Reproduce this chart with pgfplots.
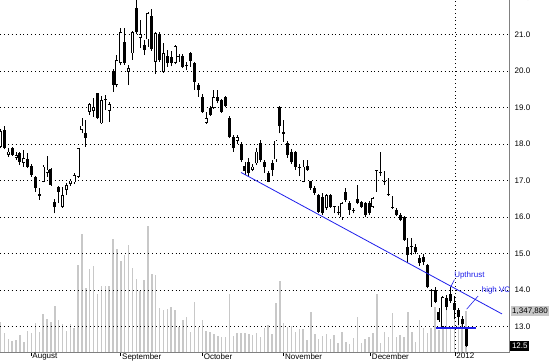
\documentclass[border=0pt]{standalone}
\usepackage{pgfplots}
\pgfplotsset{compat=1.18}
\usepackage{pgfplotstable}
\usepackage{fontspec}
\setmainfont{Liberation Sans}
\definecolor{volgray}{RGB}{200,200,200}
\definecolor{axgray}{RGB}{128,128,128}
\definecolor{annblue}{RGB}{30,30,235}

\pgfplotstableread{
k o h l c
0 17.92 18.40 17.88 18.35
1 18.38 18.48 17.85 17.90
2 17.70 17.88 17.65 17.79
3 17.89 17.92 17.68 17.70
4 17.62 17.79 17.56 17.70
5 17.75 17.79 17.42 17.51
6 17.48 17.83 17.37 17.62
7 17.58 17.74 17.34 17.38
8 17.40 17.45 17.10 17.15
9 17.10 17.12 16.69 16.80
10 16.62 16.79 16.47 16.58
11 16.97 17.42 16.95 17.38
12 17.20 17.67 17.10 17.30
13 17.31 17.35 16.85 16.88
14 16.42 16.49 16.10 16.27
15 16.83 16.85 16.38 16.69
16 16.28 16.83 16.25 16.60
17 16.74 16.92 16.60 16.87
18 16.90 17.05 16.85 17.00
19 16.95 17.20 16.90 17.15
20 17.10 17.90 17.07 17.88
21 18.38 18.70 18.29 18.50
22 18.31 18.66 17.92 18.17
23 18.88 19.13 18.79 19.08
24 18.90 19.25 18.75 19.00
25 19.39 19.40 18.68 18.71
26 18.56 19.30 18.55 19.20
27 19.20 19.35 18.92 19.24
28 18.90 19.15 18.60 19.08
29 20.00 20.05 19.43 19.61
30 19.61 20.43 19.55 20.30
31 20.21 21.16 20.15 21.07
32 20.80 21.16 20.17 20.21
33 19.98 20.16 19.61 20.07
34 20.48 21.10 20.30 21.07
35 21.71 22.05 21.02 21.07
36 20.91 21.39 20.62 21.00
37 20.71 20.85 20.43 20.58
38 20.86 21.62 20.66 21.59
39 21.50 21.68 20.55 20.59
40 20.25 21.05 19.91 21.03
41 21.00 21.05 20.25 20.30
42 19.98 20.75 19.95 20.48
43 20.41 20.57 20.11 20.21
44 20.38 20.55 20.12 20.22
45 20.21 20.70 20.18 20.68
46 20.38 20.47 20.25 20.40
47 20.41 20.45 20.07 20.11
48 20.12 20.25 20.02 20.15
49 20.50 20.52 20.11 20.27
50 20.21 20.25 19.48 19.70
51 19.61 19.68 19.29 19.48
52 19.29 19.38 18.85 18.88
53 18.58 18.88 18.55 18.70
54 18.98 19.05 18.77 18.79
55 18.98 19.48 18.95 19.29
56 19.29 19.48 19.11 19.18
57 19.20 19.22 18.85 18.88
58 19.28 19.30 19.00 19.04
59 18.70 18.76 18.15 18.18
60 18.20 18.25 17.79 17.88
61 18.08 18.25 18.00 18.18
62 18.00 18.05 17.50 17.56
63 17.40 17.51 17.15 17.27
64 17.51 17.61 17.12 17.20
65 17.29 17.45 17.25 17.38
66 17.47 17.88 17.42 17.79
67 18.02 18.11 17.50 17.56
68 17.51 17.56 17.20 17.38
69 17.20 17.25 16.95 16.97
70 17.49 17.56 17.12 17.29
71 17.58 18.12 17.51 18.09
72 19.02 19.05 18.29 18.49
73 18.32 18.66 18.06 18.28
74 18.02 18.08 17.62 17.70
75 17.79 17.85 17.45 17.51
76 17.79 17.82 17.29 17.38
77 17.36 17.45 17.12 17.34
78 16.97 17.56 16.95 17.38
79 17.40 17.56 17.27 17.29
80 16.99 17.00 16.75 16.79
81 16.80 16.85 16.60 16.67
82 16.60 16.62 16.10 16.15
83 16.55 16.65 16.05 16.10
84 16.24 16.63 16.20 16.60
85 16.60 16.63 16.25 16.28
86 16.28 16.30 16.10 16.27
87 16.12 16.30 16.05 16.15
88 15.99 16.42 15.92 16.38
89 16.69 16.79 16.40 16.47
90 16.39 16.45 16.06 16.19
91 16.18 16.25 16.10 16.17
92 16.49 16.88 16.35 16.39
93 16.42 16.45 16.25 16.28
94 16.39 16.42 16.00 16.06
95 16.38 16.45 16.05 16.10
96 16.27 16.55 16.25 16.51
97 17.27 17.30 16.69 17.29
98 17.20 17.79 17.12 17.22
99 17.00 17.25 16.88 16.97
100 16.63 17.06 16.58 16.60
101 16.27 16.58 16.22 16.25
102 16.19 16.25 16.02 16.06
103 16.06 16.10 15.88 15.92
104 16.00 16.02 15.35 15.37
105 15.19 15.42 14.73 14.96
106 15.21 15.42 14.96 15.19
107 15.19 15.25 14.98 15.05
108 14.87 14.96 14.66 14.73
109 14.92 15.00 14.68 14.78
110 14.69 14.72 14.05 14.08
111 13.98 14.02 13.55 14.00
112 14.00 14.08 13.64 13.68
113 13.41 13.50 13.14 13.18
114 13.00 13.85 12.98 13.82
115 13.78 13.88 13.45 13.55
116 13.90 14.09 13.65 13.70
117 13.66 13.85 13.20 13.46
118 13.46 13.50 13.05 13.27
119 13.20 13.28 13.00 13.08
120 12.98 13.00 12.45 12.47
}\candles

\pgfplotstableread{
k v
0 1.00
1 0.63
2 0.44
3 0.38
4 0.41
5 0.56
6 0.36
7 0.71
8 0.65
9 0.97
10 0.68
11 1.24
12 1.09
13 0.98
14 1.51
15 1.06
16 0.93
17 0.71
18 0.94
19 0.80
20 2.84
21 3.85
22 2.09
23 2.72
24 2.80
25 1.90
26 2.16
27 2.16
28 2.16
29 3.68
30 3.37
31 2.98
32 3.17
33 3.47
34 2.73
35 2.39
36 2.00
37 2.36
38 4.10
39 2.55
40 2.52
41 1.45
42 1.37
43 1.40
44 1.48
45 1.37
46 0.82
47 1.06
48 1.14
49 0.68
50 1.64
51 0.84
52 1.06
53 0.71
54 0.68
55 0.60
56 0.55
57 0.50
58 0.50
59 1.89
60 0.54
61 0.65
62 0.65
63 0.63
64 0.60
65 0.57
66 0.64
67 0.52
68 0.79
69 0.90
70 0.60
71 1.60
72 2.33
73 0.95
74 0.84
75 0.86
76 0.68
77 0.76
78 0.77
79 0.41
80 1.33
81 0.60
82 0.43
83 0.54
84 0.60
85 0.43
86 0.57
87 0.30
88 0.66
89 0.36
90 0.28
91 0.46
92 1.14
93 0.30
94 0.43
95 0.50
96 0.63
97 1.89
98 0.30
99 0.68
100 0.52
101 1.27
102 0.52
103 0.57
104 0.52
105 1.33
106 0.68
107 0.36
108 1.06
109 0.79
110 0.63
111 0.79
112 1.49
113 0.73
114 1.43
115 1.81
116 0.84
117 1.81
118 1.17
119 0.95
120 1.348
}\volume

\begin{document}
\begin{tikzpicture}[font=\fontsize{8}{9.6}\selectfont]
\path[use as bounding box] (0,0) rectangle (550pt,364pt);
% volume
\begin{axis}[at={(0pt,11.3pt)}, anchor=south west, scale only axis,
  width=509pt, height=352.7pt,
  xmin=-0.129, xmax=131.06, ymin=0, ymax=11.414,
  hide axis, clip mode=individual]
\addplot[ycomb, draw=volgray, line width=1.5pt, mark=none] table[x=k,y=v] {\volume};
\node[fill=volgray, text=black, anchor=west, inner sep=1.5pt, xshift=1.5pt] at (axis cs:131.06,1.348) {1,347,880};
\end{axis}
% price
\begin{axis}[at={(0pt,11.3pt)}, anchor=south west, scale only axis,
  width=509pt, height=354.95pt,
  xmin=-0.129, xmax=131.06, ymin=12.289, ymax=22,
  axis x line*=bottom, axis y line*=right,
  axis line style={axgray, line width=0.9pt},
  ytick={13,14,...,22},
  yticklabel={\pgfmathprintnumber[fixed,fixed zerofill,precision=1]{\tick}},
  /pgf/number format/assume math mode=true,
  ymajorgrids,
  grid style={black, line width=0.6pt, dash pattern=on 0.7pt off 3.2pt},
  ytick style={draw=none},
  xtick={7.86,30.98,52.01,72.99,95.36},
  xticklabels={August,September,October,November,December},
  extra x ticks={117.14}, extra x tick labels={2012},
  extra x tick style={grid=major},
  xtick style={draw=black, line width=0.5pt},
  tick align=outside, major tick length=3pt,
  xticklabel style={anchor=north west, inner sep=0.5pt, xshift=0.8pt, yshift=3pt},
  yticklabel style={anchor=west, inner sep=0pt, xshift=2.5pt},
  clip mode=individual]
% wicks
\addplot[draw=none, mark=none, forget plot,
  error bars/.cd, y dir=plus, y explicit, error mark=none,
  error bar style={draw=black, line width=0.8pt}]
  table[x=k, y=l, y error expr=\thisrow{h}-\thisrow{l}] {\candles};
% bodies
\addplot[draw=none, mark=none, forget plot,
  error bars/.cd, y dir=plus, y explicit, error mark=none,
  error bar style={draw=black, line width=3pt}]
  table[x=k, y expr={min(\thisrow{o},\thisrow{c})},
        y error expr={max(abs(\thisrow{c}-\thisrow{o}),0.03)}] {\candles};
% hollow interior of rising candles
\addplot[draw=none, mark=none, forget plot,
  error bars/.cd, y dir=plus, y explicit, error mark=none,
  error bar style={draw=white, line width=1.5pt}]
  table[x=k, y expr={min(\thisrow{o},\thisrow{c})+0.022},
        y error expr={max(0,(\thisrow{c}>\thisrow{o})*(\thisrow{c}-\thisrow{o}-0.044))}] {\candles};
% annotations
\addplot[annblue, line width=0.8pt, mark=none] coordinates {(62.0,17.22) (129.25,13.35)};
\addplot[annblue, line width=1.8pt, mark=none] coordinates {(112.2,12.97) (122.5,12.97)};
\addplot[annblue, line width=0.6pt, mark=none] coordinates {(117.0,14.29) (116.0,14.08)};
\addplot[annblue, line width=0.6pt, mark=none] coordinates {(123.1,13.84) (120.15,13.48)};
\node[text=annblue, anchor=west, inner sep=0pt] at (axis cs:116.9,14.41) {Upthrust};
\node[text=annblue, anchor=west, inner sep=0pt] at (axis cs:124.0,13.98) {high VC};
\node[fill=black, text=white, anchor=west, inner sep=1.8pt, xshift=1pt] at (axis cs:131.06,12.47) {12.5};
\end{axis}
\end{tikzpicture}
\end{document}
